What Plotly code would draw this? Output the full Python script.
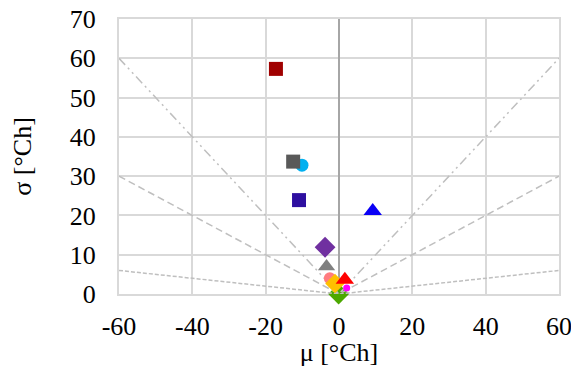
import plotly.graph_objects as go

# Reference guide lines (sigma = k*|mu|)
guide_x = [-60, 0, 60]
guide_y_1 = [60, 0, 60]
guide_y_05 = [30, 0, 30]
guide_y_01 = [6, 0, 6]

# Axis ticks
x_ticks = [-60, -40, -20, 0, 20, 40, 60]
x_tick_text = ["-60", "-40", "-20", "0", "20", "40", "60"]
y_ticks = [0, 10, 20, 30, 40, 50, 60, 70]
y_tick_text = ["0", "10", "20", "30", "40", "50", "60", "70"]

# Data points
mu = [-17.2, -12.5, -10.1, -10.9, 9.2, -3.8, -3.4, -2.5, -1.1, 1.6, 2.1, -0.1]
sigma = [57.3, 33.7, 32.8, 23.9, 21.1, 11.9, 7.0, 4.0, 2.7, 3.6, 1.5, 0.0]
symbols = ["square", "square", "circle", "square", "triangle-up", "diamond",
           "triangle-up", "circle", "diamond", "triangle-up", "circle", "diamond"]
colors = ["#A00000", "#595959", "#00B0F0", "#2E0FA0", "#0A00F5", "#7030A0",
          "#808080", "#FF7C80", "#FFC000", "#FF0000", "#FF00FF", "#4CA800"]
sizes = [14, 14, 13, 14, 16, 16, 15, 12, 15, 16, 7, 16]

fig = go.Figure()

def add_point(i):
    fig.add_trace(go.Scatter(x=[mu[i]], y=[sigma[i]], mode="markers",
                             marker=dict(symbol=symbols[i], color=colors[i], size=sizes[i],
                                         line=dict(width=0)),
                             cliponaxis=False, showlegend=False))

# green point sits under the guide lines
add_point(11)

line_col = "#BFBFBF"
fig.add_trace(go.Scatter(x=guide_x, y=guide_y_1, mode="lines",
                         line=dict(color=line_col, width=1.5, dash="9px,4px,2px,4px,2px,4px"),
                         hoverinfo="skip", showlegend=False))
fig.add_trace(go.Scatter(x=guide_x, y=guide_y_05, mode="lines",
                         line=dict(color=line_col, width=1.5, dash="7px,4px"),
                         hoverinfo="skip", showlegend=False))
fig.add_trace(go.Scatter(x=guide_x, y=guide_y_01, mode="lines",
                         line=dict(color=line_col, width=1.5, dash="4px,2px"),
                         hoverinfo="skip", showlegend=False))

for i in [10, 7, 8, 6, 9, 5, 4, 3, 2, 1, 0]:
    add_point(i)

font = dict(family="Liberation Serif, Times New Roman, serif", size=26, color="#000000")
grid = "#D9D9D9"

# the page body adds an 8px margin; the figure is sized to fit inside the window
fig.update_layout(
    width=571, height=359,
    margin=dict(l=111, r=20, t=11, b=73),
    paper_bgcolor="white", plot_bgcolor="white",
    font=font,
    showlegend=False,
    xaxis=dict(range=[-60, 60], tickvals=x_ticks, ticktext=x_tick_text,
               showgrid=True, gridcolor=grid, gridwidth=2,
               zeroline=True, zerolinecolor="#A6A6A6", zerolinewidth=2,
               showline=True, linecolor=grid, linewidth=2, mirror=True,
               ticks="", ticklabelstandoff=8, automargin=False, ticklabeloverflow="allow",
               layer="below traces",
               title=dict(text="μ [°Ch]", standoff=0, font=font)),
    yaxis=dict(range=[0, 70], tickvals=y_ticks, ticktext=y_tick_text,
               showgrid=True, gridcolor=grid, gridwidth=2,
               zeroline=False,
               showline=True, linecolor=grid, linewidth=2, mirror=True,
               ticks="", ticklabelstandoff=16, automargin=False, ticklabeloverflow="allow",
               layer="below traces",
               title=dict(text="σ [°Ch]", standoff=33, font=font)),
)

fig.write_html("out.html")
